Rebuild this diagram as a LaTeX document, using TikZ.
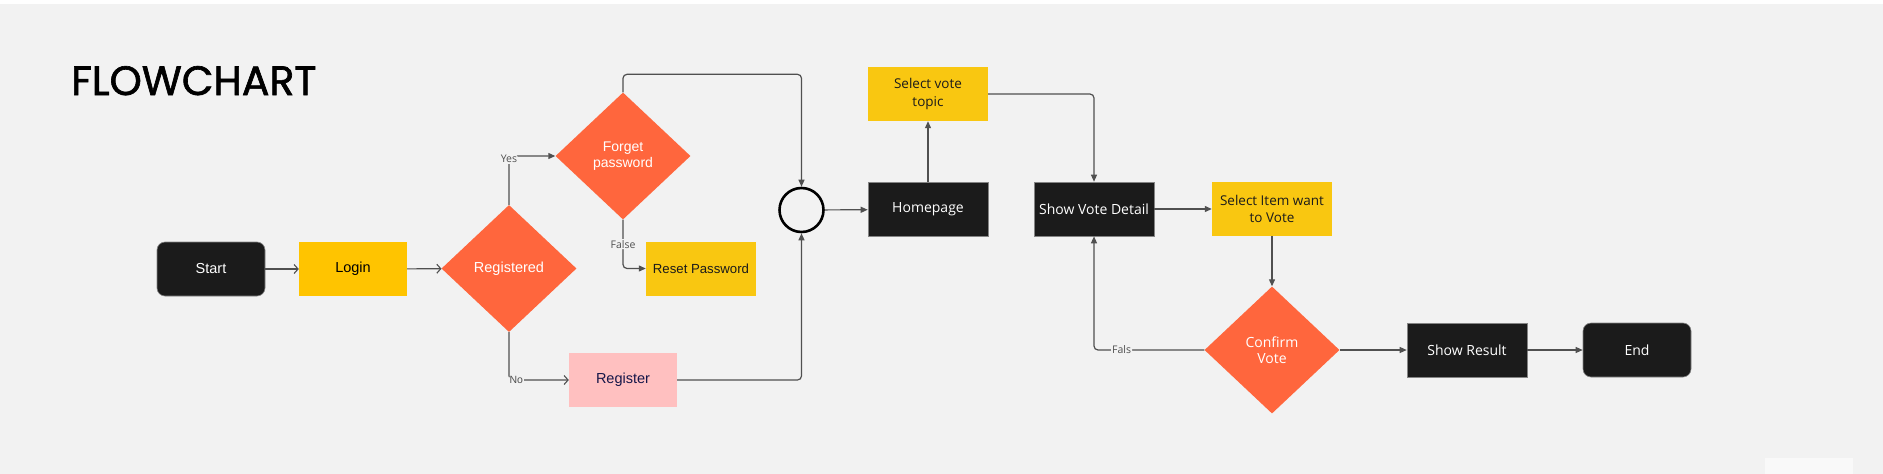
\documentclass[tikz,border=0pt]{standalone}
\usepackage{fontspec}
\setmainfont{Liberation Sans}
\newfontfamily\opensans{Open Sans}
\newfontfamily\poppins[FakeBold=1.6]{Poppins}
\usetikzlibrary{shapes.geometric}
\usetikzlibrary{arrows.meta}
\definecolor{bg1}{RGB}{242, 242, 242}
\definecolor{ink1}{RGB}{27, 27, 27}
\definecolor{yellow1}{RGB}{255, 196, 0}
\definecolor{yellow2}{RGB}{249, 199, 17}
\definecolor{orange1}{RGB}{255, 102, 61}
\definecolor{pink1}{RGB}{255, 192, 192}
\definecolor{line1}{RGB}{80, 80, 80}

\begin{document}
\begin{tikzpicture}[x=1pt, y=-1pt,
  box/.style={rectangle, inner sep=0pt, minimum width=120pt, minimum height=54pt, align=center},
  dark/.style={box, fill=ink1, draw=line1!70, line width=0.6pt, text=white},
  term/.style={dark, rounded corners=8pt, minimum width=108pt},
  yel/.style={box, fill=yellow2, text=ink1},
  decide/.style={diamond, aspect=1, inner sep=0pt, minimum width=135pt, minimum height=127pt, fill=orange1, text=white, align=center},
  lbl/.style={fill=bg1, inner sep=1pt, text=line1, font=\opensans\fontsize{10.5}{12}\selectfont},
  flow/.style={draw=line1, line width=1.2pt, rounded corners=4pt, -{Triangle[length=7pt,width=6pt]}},
  thin/.style={draw=line1, line width=1.1pt, -{Straight Barb[length=4pt,width=9pt]}}]
  \fill[white] (0,0) rectangle (1883,474);
  \fill[bg1] (0,4) rectangle (1883,474);
  \fill[white!55!bg1] (1765,458) rectangle (1853,474);
  \useasboundingbox (0,0) rectangle (1883,474);

  \node[anchor=base west, inner sep=0pt, font=\poppins\fontsize{41}{45}\selectfont] (title) at (71,95) {FLOWCHART};

  \node[term, font=\fontsize{14.5}{16}\selectfont] (start) at (211,269) {Start};
  \node[box, fill=yellow1, minimum width=108pt, font=\fontsize{14.5}{16}\selectfont] (login) at (353,269) {Login};
  \node[decide, font=\fontsize{14.5}{16}\selectfont] (reg) at (509,268.5) {Registered};
  \node[decide, font=\fontsize{14}{15.5}\selectfont] (forgot) at (623,156) {Forget\\password};
  \node[yel, minimum width=110pt, font=\fontsize{13.2}{16}\selectfont] (reset) at (701,268.5) {Reset Password};
  \node[box, fill=pink1, minimum width=108pt, text=ink1!80!blue, font=\fontsize{14.5}{16}\selectfont] (register) at (623,380) {Register};

  \node[circle, draw=black, line width=2.6pt, minimum size=44pt, inner sep=0pt] (join) at (801.5,210) {};

  \node[dark, font=\opensans\fontsize{14}{16}\selectfont] (home) at (928,209.5) {Homepage};
  \node[yel, font=\opensans\fontsize{13.5}{18}\selectfont] (topic) at (928,94) {Select vote\\topic};
  \node[dark, font=\opensans\fontsize{14}{16}\selectfont] (detail) at (1094,209) {Show Vote Detail};
  \node[yel, font=\opensans\fontsize{13.5}{17}\selectfont] (item) at (1272,209) {Select Item want\\to Vote};
  \node[decide, font=\opensans\fontsize{14}{15.5}\selectfont] (confirm) at (1272,350) {Confirm\\Vote};
  \node[dark, font=\opensans\fontsize{14}{16}\selectfont] (result) at (1467,350) {Show Result};
  \node[term, font=\opensans\fontsize{14}{16}\selectfont] (finish) at (1637,350) {End};

  \foreach \from/\to in {start/login, login/reg}
    \draw[thin] (\from) -- (\to);
  \draw[thin, rounded corners=4pt] (reg.south) |- node[lbl, pos=0.5, anchor=west, xshift=-1pt, font=\fontsize{10.5}{12}\selectfont]{No} (register.west);

  \draw[flow] (reg.north) |- node[lbl, pos=0.5, yshift=-3pt]{Yes} (forgot.west);
  \draw[flow] (forgot.south) |- node[lbl, pos=0.25]{False} (reset.west);
  \draw[flow] (forgot.north) -- ++(0,-18) -| (join.north);
  \draw[flow] (register.east) -| (join.south);

  \foreach \from/\to in {join/home, detail/item, confirm/result, result/finish}
    \draw[flow] (\from) -- (\to);
  \draw[flow] (home.north) -- (topic.south);
  \draw[flow] (topic.east) -| (detail.north);
  \draw[flow] (item.south) -- (confirm.north);
  \draw[flow] (confirm.west) -| node[lbl, pos=0.375]{Fals} (detail.south);
\end{tikzpicture}
\end{document}
